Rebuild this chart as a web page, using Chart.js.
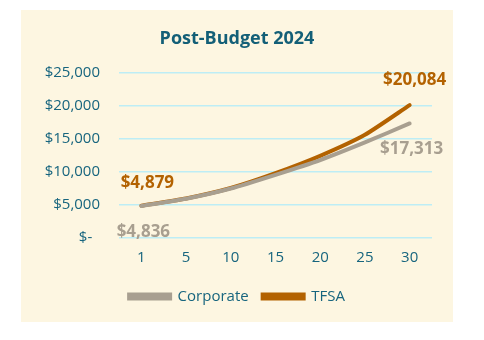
<!DOCTYPE html>
<html>
<head>
<meta charset="utf-8">
<script src="https://cdn.jsdelivr.net/npm/chart.js@4/dist/chart.umd.min.js"></script>
<style>
  html, body { margin: 0; padding: 0; background: #ffffff; }
  #panel { position: absolute; left: 21px; top: 10px; width: 432px; height: 312px; background: #FDF6E1; }
  #c { display: block; }
</style>
</head>
<body>
<div id="panel"><canvas id="c" width="432" height="312"></canvas></div>
<script>
const years = ["1", "5", "10", "15", "20", "25", "30"];
const corporate = [4836, 5940, 7480, 9550, 11780, 14440, 17313];
const tfsa = [4879, 5980, 7560, 9800, 12420, 15600, 20084];
const seriesNames = ["Corporate", "TFSA"];
const yTicks = [0, 5000, 10000, 15000, 20000, 25000];
const titleText = "Post-Budget 2024";

const TEAL = "#17657E";
const GREY = "#A89F90";
const ORANGE = "#B36200";
const FONT = "'Open Sans', Lato, sans-serif";

function money(v) {
  if (v === 0) return "$-  ";
  return "$" + v.toLocaleString("en-US");
}

const endLabels = {
  id: "endLabels",
  afterDatasetsDraw(chart) {
    const ctx = chart.ctx;
    ctx.save();
    ctx.font = "bold 17px " + FONT;
    ctx.textBaseline = "middle";
    ctx.textAlign = "center";
    const specs = [
      { ds: 0, idx: 0, dx: 2, dy: 26 },
      { ds: 1, idx: 0, dx: 6, dy: -23 },
      { ds: 0, idx: 6, dx: 2, dy: 26 },
      { ds: 1, idx: 6, dx: 5, dy: -25 }
    ];
    specs.forEach(s => {
      const meta = chart.getDatasetMeta(s.ds);
      const pt = meta.data[s.idx];
      const val = chart.data.datasets[s.ds].data[s.idx];
      ctx.fillStyle = chart.data.datasets[s.ds].borderColor;
      ctx.fillText(money(val), pt.x + s.dx, pt.y + s.dy);
    });
    ctx.restore();
  }
};

new Chart(document.getElementById("c"), {
  type: "line",
  data: {
    labels: years,
    datasets: [
      { label: seriesNames[0], data: corporate, borderColor: GREY, backgroundColor: GREY, borderWidth: 4, pointRadius: 0, tension: 0.2, borderCapStyle: "round" },
      { label: seriesNames[1], data: tfsa, borderColor: ORANGE, backgroundColor: ORANGE, borderWidth: 4, pointRadius: 0, tension: 0.2, borderCapStyle: "round" }
    ]
  },
  options: {
    responsive: false,
    animation: false,
    layout: { padding: { left: 21, right: 21, top: 6, bottom: 8 } },
    plugins: {
      title: {
        display: true, text: titleText, color: "#135F77",
        font: { family: FONT, size: 18, weight: "bold" },
        padding: { top: 12, bottom: 23 }
      },
      legend: {
        position: "bottom",
        labels: {
          color: TEAL, font: { family: FONT, size: 15 },
          boxWidth: 41, boxHeight: 4, padding: 14
        }
      },
      tooltip: { enabled: false }
    },
    scales: {
      x: {
        offset: true,
        afterFit(axis) { axis.height += 5; },
        grid: { display: false },
        border: { display: false },
        ticks: { color: TEAL, font: { family: FONT, size: 15 }, padding: 3 }
      },
      y: {
        min: 0, max: 25000,
        afterBuildTicks(axis) { axis.ticks = yTicks.map(v => ({ value: v })); },
        afterFit(axis) { axis.width = 77; },
        grid: { color: "#BDEDF5", lineWidth: 1.5, drawTicks: false },
        border: { display: false },
        ticks: { color: TEAL, font: { family: FONT, size: 15 }, padding: 19, callback: v => money(v) }
      }
    }
  },
  plugins: [endLabels]
});
</script>
</body>
</html>
